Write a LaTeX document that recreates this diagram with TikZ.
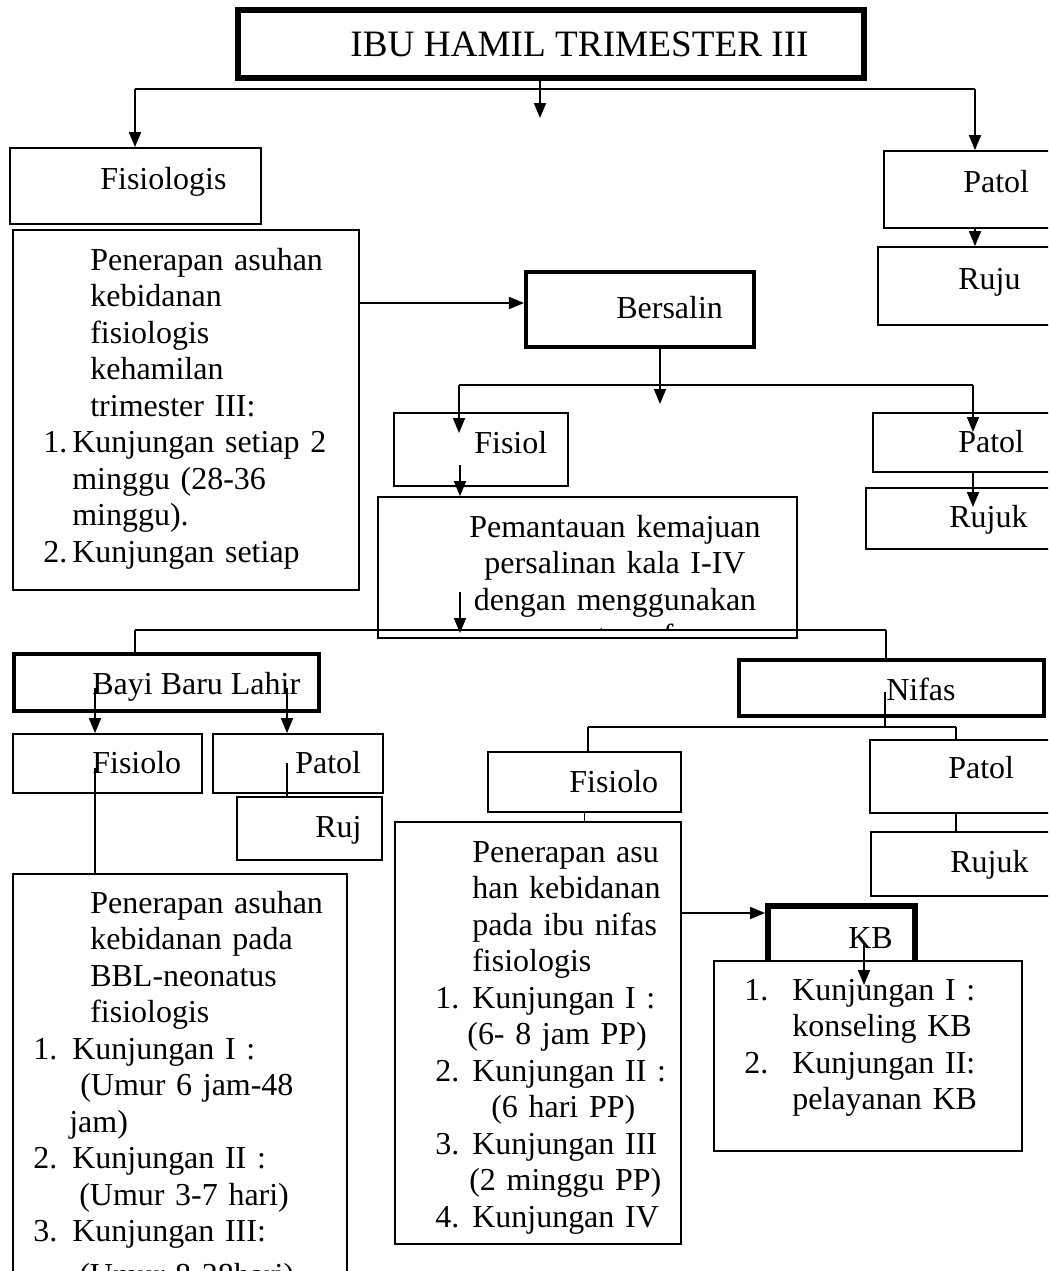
\documentclass[tikz,border=0pt]{standalone}
\usepackage{fontspec}
\setmainfont{Liberation Serif}
\usetikzlibrary{arrows.meta,fit}
\newcommand\hurufisi{\fontsize{18.2}{20.8}\selectfont}
\newcommand\hurufjudul{\fontsize{21.2}{25}\selectfont}
\begin{document}
\begin{tikzpicture}[x=0.02cm, y=-0.02cm]
	\tikzset{kotak/.style={draw, fill=white, line width=1pt, inner sep=0pt}, teks/.style={anchor=base west, inner sep=0pt, font=\hurufisi}, garis/.style={line width=1pt}, panah/.style={line width=1pt, -{Triangle[length=0.3cm, width=0.24cm]}}};

	\useasboundingbox (0,0) rectangle (1048,1271);
	\clip (0,0) rectangle (1048,1271);

	\node[kotak, line width=3.4pt, fit={(238,10) (864,78)}] (judul) {};
	\node[teks, font=\hurufjudul] (tjudul) at (350,56) {IBU HAMIL TRIMESTER III};

	\node[kotak, fit={(10,148) (261,224)}]   (fisio1) {};
	\node[kotak, fit={(884,151) (1070,228)}] (patol1) {};
	\node[kotak, fit={(878,247) (1070,325)}] (ruju1) {};
	\node[kotak, fit={(13,230) (359,590)}]   (isi1) {};
	\node[teks] (tfisio1) at (100,189) {Fisiologis};
	\node[teks] (tpatol1) at (963,192) {Patol};
	\node[teks] (truju1)  at (958,289) {Ruju};
	\node[teks, text width=7cm, align=left] (tisi1) at (43,270) {\hspace*{0.94cm}\makebox[4.96cm][s]{Penerapan asuhan}\\
		\hspace*{0.94cm}kebidanan\\
		\hspace*{0.94cm}fisiologis\\
		\hspace*{0.94cm}kehamilan\\
		\hspace*{0.94cm}trimester III:\\
		\makebox[0.58cm][l]{1.}Kunjungan setiap 2\\
		\hspace*{0.58cm}minggu (28-36\\
		\hspace*{0.58cm}minggu).\\
		\makebox[0.58cm][l]{2.}Kunjungan setiap};

	\node[kotak, line width=2.3pt, fit={(526,272) (754,347)}] (bersalin) {};
	\node[kotak, fit={(394,413) (568,486)}]  (fisiol2) {};
	\node[kotak, fit={(873,413) (1070,472)}] (patol2) {};
	\node[kotak, fit={(866,488) (1070,549)}] (rujuk2) {};
	\node[kotak, fit={(378,497) (797,638)}]  (pantau) {};
	\node[teks] (tbersalin) at (616,318) {Bersalin};
	\node[teks] (tfisiol2)  at (474,453) {Fisiol};
	\node[teks] (tpatol2)   at (958,452) {Patol};
	\node[teks] (trujuk2)   at (949,527) {Rujuk};
	\begin{scope}
		\clip (379,498) rectangle (796,630);
		\node[teks, anchor=base, text width=7cm, align=center] (tpantau) at (615,537) {Pemantauan kemajuan\\persalinan kala I-IV\\dengan menggunakan\\partograf};
	\end{scope}

	\node[kotak, line width=2.3pt, fit={(14,654) (319,711)}] (bbl) {};
	\node[kotak, fit={(13,734) (202,793)}]   (fisiolo3) {};
	\node[kotak, fit={(213,734) (383,793)}]  (patol3) {};
	\node[kotak, fit={(237,797) (382,860)}]  (ruj3) {};
	\node[kotak, fit={(13,874) (347,1320)}]  (isi3) {};
	\node[teks] (tbbl)      at (92,694)  {Bayi Baru Lahir};
	\node[teks] (tfisiolo3) at (92,773)  {Fisiolo};
	\node[teks] (tpatol3)   at (295,773) {Patol};
	\node[teks] (truj3)     at (315,837) {Ruj};
	\node[teks, text width=7cm, align=left] (tisi3) at (33,913) {\hspace*{1.14cm}\makebox[4.72cm][s]{Penerapan asuhan}\\
		\hspace*{1.14cm}\makebox[4.72cm][s]{kebidanan pada}\\
		\hspace*{1.14cm}BBL-neonatus\\
		\hspace*{1.14cm}fisiologis\\
		\makebox[0.78cm][l]{1.}Kunjungan I :\\
		\hspace*{0.94cm}\makebox[4.92cm][s]{(Umur 6 jam-48}\\
		\hspace*{0.72cm}jam)\\
		\makebox[0.78cm][l]{2.}Kunjungan II :\\
		\hspace*{0.92cm}(Umur 3-7 hari)\\
		\makebox[0.78cm][l]{3.}Kunjungan III:\\[0.14cm]
		\hspace*{0.92cm}(Umur 8-28hari)};

	\node[kotak, line width=2.8pt, fit={(739,660) (1044,716)}] (nifas) {};
	\node[kotak, fit={(488,752) (681,812)}]  (fisiolo4) {};
	\node[kotak, fit={(870,740) (1070,813)}] (patol4) {};
	\node[kotak, fit={(871,832) (1070,896)}] (rujuk4) {};
	\node[kotak, fit={(395,822) (681,1244)}] (isi4) {};
	\node[teks] (tnifas)    at (886,700) {Nifas};
	\node[teks] (tfisiolo4) at (569,792) {Fisiolo};
	\node[teks] (tpatol4)   at (948,778) {Patol};
	\node[teks] (trujuk4)   at (950,872) {Rujuk};
	\node[teks, text width=6cm, align=left] (tisi4) at (435,862) {\hspace*{0.74cm}Penerapan asu\\
		\hspace*{0.74cm}\makebox[3.74cm][s]{han kebidanan}\\
		\hspace*{0.74cm}\makebox[3.74cm][s]{pada ibu nifas}\\
		\hspace*{0.74cm}fisiologis\\
		\makebox[0.74cm][l]{1.}Kunjungan I :\\
		\hspace*{0.64cm}(6- 8 jam PP)\\
		\makebox[0.74cm][l]{2.}Kunjungan II :\\
		\hspace*{1.12cm}(6 hari PP)\\
		\makebox[0.74cm][l]{3.}Kunjungan III\\
		\hspace*{0.68cm}(2 minggu PP)\\
		\makebox[0.74cm][l]{4.}Kunjungan IV};

	\node[kotak, line width=3.4pt, fit={(768,906) (915,975)}] (kb) {};
	\node[teks] (tkb) at (848,948) {KB};
	\node[kotak, fit={(714,961) (1022,1151)}] (kblist) {};
	\node[teks, text width=6cm, align=left] (tkblist) at (744,1000) {\makebox[0.96cm][l]{1.}Kunjungan I :\\
		\hspace*{0.96cm}konseling KB\\
		\makebox[0.96cm][l]{2.}Kunjungan II:\\
		\hspace*{0.96cm}pelayanan KB};

	\coordinate (c1) at (135,89);
	\coordinate (c2) at (975,89);
	\coordinate (c3) at (540,118);
	\coordinate (u0) at (359,303);
	\coordinate (c4) at (459,385);
	\coordinate (c5) at (973,385);
	\coordinate (c6) at (660,404);
	\coordinate (u1) at (459,433);
	\coordinate (u2) at (973,432);
	\coordinate (u3) at (460,465);
	\coordinate (u4) at (973,507);
	\coordinate (c7) at (135,630);
	\coordinate (c8) at (886,630);
	\coordinate (u5) at (460,592);
	\coordinate (u6) at (460,633);
	\coordinate (u7) at (95,688);
	\coordinate (u8) at (287,688);
	\coordinate (u9) at (287,763);
	\coordinate (u10) at (95,768);
	\coordinate (u11) at (885,692);
	\coordinate (c9) at (885,727);
	\coordinate (c10) at (588,727);
	\coordinate (c11) at (956,727);
	\coordinate (u12) at (681,913);
	\coordinate (u13) at (864,945);
	\coordinate (u14) at (864,985);

	\draw[garis] (c1) -- (c2);
	\draw[panah] (c1) -- (c1 |- fisio1.north);
	\draw[panah] (judul.south -| c3) -- (c3);
	\draw[panah] (c2) -- (c2 |- patol1.north);
	\draw[panah] (patol1.south -| c2) -- (c2 |- ruju1.north);
	\draw[panah] (u0) -- (u0 -| bersalin.west);

	\draw[garis] (c4) -- (c5);
	\draw[panah] (bersalin.south -| c6) -- (c6);
	\draw[panah] (c4) -- (u1);
	\draw[panah] (c5) -- (u2);
	\draw[panah] (u3) -- (u3 |- pantau.north);
	\draw[panah] (patol2.south -| c5) -- (u4);

	\draw[garis] (c7) -- (c8);
	\draw[garis] (c7) -- (c7 |- bbl.north);
	\draw[garis] (c8) -- (c8 |- nifas.north);
	\draw[panah] (u5) -- (u6);

	\draw[panah] (u7) -- (u7 |- fisiolo3.north);
	\draw[panah] (u8) -- (u8 |- patol3.north);
	\draw[garis] (u9) -- (u9 |- ruj3.north);
	\draw[garis] (u10) -- (u10 |- isi3.north);

	\draw[garis] (u11) -- (c9);
	\draw[garis] (c10) -- (c11);
	\draw[garis] (c10) -- (c10 |- fisiolo4.north);
	\draw[garis] (c11) -- (c11 |- patol4.north);
	\draw[garis] (fisiolo4.south) -- (fisiolo4.south |- isi4.north);
	\draw[garis] (patol4.south -| c11) -- (c11 |- rujuk4.north);
	\draw[panah] (u12) -- (u12 -| kb.west);
	\draw[panah] (u13) -- (u14);

\end{tikzpicture}
\end{document}
